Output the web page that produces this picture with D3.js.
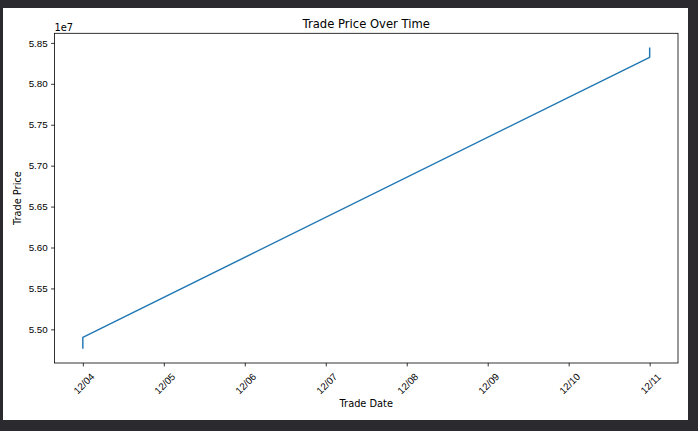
<!DOCTYPE html>
<html lang="en">
<head>
    <meta charset="UTF-8">
    <title>Trade Price Over Time</title>
    <script src="https://d3js.org/d3.v7.min.js"></script>
    <style>
        body {
            margin: 0;
            background-color: #2b2b2f;
            font-family: "DejaVu Sans", sans-serif;
        }
        svg { display: block; }
        .tick text { font-size: 9.8px; fill: #000; }
        .domain, .tick line { stroke: #000; stroke-width: 0.8px; }
    </style>
</head>
<body>
    <div id="chart"></div>
    <script>
        // Data
        const tradeDates = ["2023-12-04", "2023-12-04", "2023-12-11", "2023-12-11"];
        const tradePrices = [54772000, 54902000, 58324000, 58434000];
        const xTickDates = ["2023-12-04", "2023-12-05", "2023-12-06", "2023-12-07",
                            "2023-12-08", "2023-12-09", "2023-12-10", "2023-12-11"];
        const yTickValues = [5.50, 5.55, 5.60, 5.65, 5.70, 5.75, 5.80, 5.85];

        const W = 698, H = 431;
        const fig = {x: 3, y: 8, w: 685, h: 412};
        const ax = {left: 54.5, right: 678, top: 33.3, bottom: 363};

        const parse = d3.utcParse("%Y-%m-%d");
        const data = tradeDates.map((d, i) => ({date: parse(d), price: tradePrices[i]}));

        const svg = d3.select("#chart").append("svg")
            .attr("width", W)
            .attr("height", H);

        // figure background
        svg.append("rect")
            .attr("x", fig.x).attr("y", fig.y)
            .attr("width", fig.w).attr("height", fig.h)
            .attr("fill", "#fff");

        // scales with matplotlib-like 5% margins
        const [x0, x1] = d3.extent(data, d => +d.date);
        const xPad = (x1 - x0) * 0.05;
        const xScale = d3.scaleUtc()
            .domain([new Date(x0 - xPad), new Date(x1 + xPad)])
            .range([ax.left, ax.right]);

        const [y0, y1] = d3.extent(data, d => d.price);
        const yPad = (y1 - y0) * 0.05;
        const yScale = d3.scaleLinear()
            .domain([y0 - yPad, y1 + yPad])
            .range([ax.bottom, ax.top]);

        // axes
        const xAxis = d3.axisBottom(xScale)
            .tickValues(xTickDates.map(parse))
            .tickFormat(d3.utcFormat("%m/%d"))
            .tickSize(3.4)
            .tickPadding(3.4)
            .tickSizeOuter(0);

        const gx = svg.append("g")
            .attr("transform", `translate(0,${ax.bottom})`)
            .call(xAxis);
        gx.select(".domain").remove();
        gx.selectAll(".tick text")
            .attr("text-anchor", "middle")
            .attr("dy", null)
            .attr("y", null)
            .attr("transform", "translate(0.5,20.5) rotate(-45)")
            .attr("dominant-baseline", "central");

        const yAxis = d3.axisLeft(yScale)
            .tickValues(yTickValues.map(v => v * 1e7))
            .tickFormat(d => (d / 1e7).toFixed(2))
            .tickSize(3.4)
            .tickPadding(3.4)
            .tickSizeOuter(0);

        const gy = svg.append("g")
            .attr("transform", `translate(${ax.left},0)`)
            .call(yAxis);
        gy.select(".domain").remove();

        // axes frame
        svg.append("rect")
            .attr("x", ax.left).attr("y", ax.top)
            .attr("width", ax.right - ax.left)
            .attr("height", ax.bottom - ax.top)
            .attr("fill", "none")
            .attr("stroke", "#000")
            .attr("stroke-width", 0.8);

        // line
        const line = d3.line()
            .x(d => xScale(d.date))
            .y(d => yScale(d.price));

        svg.append("path")
            .datum(data)
            .attr("d", line)
            .attr("fill", "none")
            .attr("stroke", "#1f77b4")
            .attr("stroke-width", 1.45)
            .attr("stroke-linejoin", "round")
            .attr("stroke-linecap", "square");

        // texts
        svg.append("text")
            .attr("x", (ax.left + ax.right) / 2)
            .attr("y", 28)
            .attr("text-anchor", "middle")
            .style("font-size", "11.6px")
            .text("Trade Price Over Time");

        svg.append("text")
            .attr("x", ax.left)
            .attr("y", 30.5)
            .style("font-size", "9.8px")
            .text("1e7");

        svg.append("text")
            .attr("x", (ax.left + ax.right) / 2)
            .attr("y", 407)
            .attr("text-anchor", "middle")
            .style("font-size", "9.8px")
            .text("Trade Date");

        svg.append("text")
            .attr("transform", `translate(20.5,${(ax.top + ax.bottom) / 2}) rotate(-90)`)
            .attr("text-anchor", "middle")
            .style("font-size", "9.8px")
            .text("Trade Price");
    </script>
</body>
</html>
